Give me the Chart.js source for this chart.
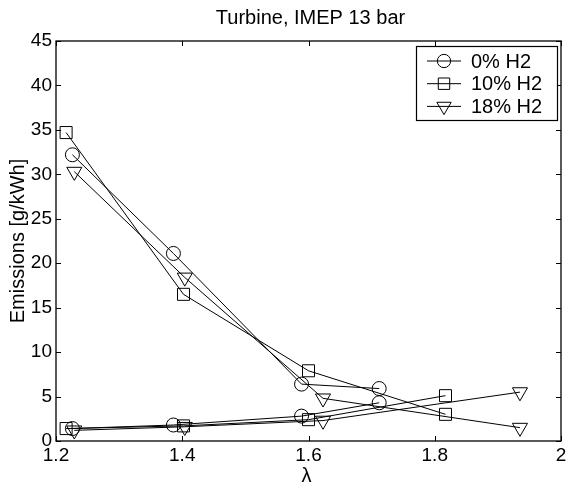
<!DOCTYPE html>
<html>
<head>
<meta charset="utf-8">
<script src="https://cdn.jsdelivr.net/npm/chart.js@4/dist/chart.umd.min.js"></script>
<style>
  html, body { margin: 0; padding: 0; background: #fff; }
  #wrap { width: 573px; height: 493px; }
</style>
</head>
<body>
<div id="wrap"><canvas id="grafico" width="573" height="493"></canvas></div>
<script>
// lambda values and emissions [g/kWh], two curves per H2 blend
const lambda0 = [1.226, 1.386, 1.589, 1.712];
const emAlta0 = [32.2, 21.1, 6.4, 5.9];
const emBaja0 = [1.4, 1.8, 2.8, 4.3];

const lambda10 = [1.216, 1.402, 1.600, 1.817];
const emAlta10 = [34.7, 16.5, 7.9, 3.0];
const emBaja10 = [1.4, 1.7, 2.4, 5.1];

const lambda18 = [1.229, 1.404, 1.623, 1.935];
const emAlta18 = [30.3, 18.4, 4.8, 1.5];
const emBaja18 = [1.2, 1.6, 2.3, 5.5];

const series = ['0% H2', '10% H2', '18% H2'];
const xTicks = [1.2, 1.4, 1.6, 1.8, 2];
const yTicks = [0, 5, 10, 15, 20, 25, 30, 35, 40, 45];

const FUENTE = '"Liberation Sans", Arial, Helvetica, sans-serif';

const marcadores = [
  { pointStyle: 'circle', radius: 7, rotation: 0 },
  { pointStyle: 'rect', radius: 8.5, rotation: 0 },
  { pointStyle: 'triangle', radius: 8.7, rotation: 180 }
];

const puntos = (xs, ys) => xs.map((x, i) => ({ x, y: ys[i] }));

function serie(nombre, data, m) {
  return {
    label: nombre,
    data,
    showLine: true,
    borderColor: '#000',
    borderWidth: 1,
    backgroundColor: 'rgba(0,0,0,0)',
    pointStyle: m.pointStyle,
    pointRadius: m.radius,
    pointRotation: m.rotation,
    pointBorderColor: '#000',
    pointBorderWidth: 1,
    pointBackgroundColor: 'rgba(0,0,0,0)',
    tension: 0
  };
}

const datasets = [
  serie(series[0], puntos(lambda0, emAlta0), marcadores[0]),
  serie(series[0], puntos(lambda0, emBaja0), marcadores[0]),
  serie(series[1], puntos(lambda10, emAlta10), marcadores[1]),
  serie(series[1], puntos(lambda10, emBaja10), marcadores[1]),
  serie(series[2], puntos(lambda18, emAlta18), marcadores[2]),
  serie(series[2], puntos(lambda18, emBaja18), marcadores[2])
];

// frame, inward ticks, title, axis labels and legend in matlab style
const estiloMatlab = {
  id: 'estiloMatlab',
  afterDraw(chart) {
    const ctx = chart.ctx;
    const a = chart.chartArea;
    const sx = chart.scales.x, sy = chart.scales.y;
    ctx.save();
    ctx.strokeStyle = '#000';
    ctx.lineWidth = 1.3;
    ctx.strokeRect(a.left, a.top, a.right - a.left, a.bottom - a.top);

    ctx.lineWidth = 1;
    ctx.beginPath();
    xTicks.forEach(v => {
      const p = Math.round(sx.getPixelForValue(v)) + 0.5;
      ctx.moveTo(p, a.bottom); ctx.lineTo(p, a.bottom - 5);
      ctx.moveTo(p, a.top); ctx.lineTo(p, a.top + 5);
    });
    yTicks.forEach(v => {
      const p = Math.round(sy.getPixelForValue(v)) + 0.5;
      ctx.moveTo(a.left, p); ctx.lineTo(a.left + 5, p);
      ctx.moveTo(a.right, p); ctx.lineTo(a.right - 5, p);
    });
    ctx.stroke();

    const cx = (a.left + a.right) / 2;
    ctx.fillStyle = '#000';
    ctx.textAlign = 'center';
    ctx.textBaseline = 'middle';
    ctx.font = '20px ' + FUENTE;
    ctx.fillText('Turbine, IMEP 13 bar', cx + 2, 18);

    ctx.font = '20px ' + FUENTE;
    ctx.fillText('λ', cx - 2, 476);

    ctx.save();
    ctx.translate(18, (a.top + a.bottom) / 2);
    ctx.rotate(-Math.PI / 2);
    ctx.font = '20px ' + FUENTE;
    ctx.fillText('Emissions [g/kWh]', 0, 0);
    ctx.restore();

    // legend
    const lx = 416, ly = 46, lw = 141, lh = 74;
    ctx.fillStyle = '#fff';
    ctx.fillRect(lx, ly, lw, lh);
    ctx.lineWidth = 1.2;
    ctx.strokeRect(lx + 0.5, ly + 0.5, lw, lh);
    ctx.font = '20px ' + FUENTE;
    ctx.textAlign = 'left';
    series.forEach((nombre, i) => {
      const y = 61 + i * 22.7;
      ctx.strokeStyle = '#000';
      ctx.lineWidth = 1;
      ctx.beginPath();
      ctx.moveTo(427, y); ctx.lineTo(461, y);
      ctx.stroke();
      const m = marcadores[i];
      ctx.fillStyle = 'rgba(0,0,0,0)';
      Chart.helpers.drawPoint(ctx, {
        pointStyle: m.pointStyle,
        radius: m.radius * 0.95,
        rotation: m.rotation,
        borderWidth: 1
      }, 444, y);
      ctx.fillStyle = '#000';
      ctx.fillText(nombre, 471, y + 1);
    });
    ctx.restore();
  }
};

const ctx = document.getElementById('grafico').getContext('2d');
new Chart(ctx, {
  type: 'scatter',
  data: { datasets },
  plugins: [estiloMatlab],
  options: {
    responsive: false,
    animation: false,
    layout: { padding: { top: 41, right: 12, left: 0, bottom: 0 } },
    plugins: {
      legend: { display: false },
      title: { display: false },
      tooltip: { enabled: false }
    },
    elements: { point: { hoverRadius: 7 } },
    scales: {
      x: {
        type: 'linear',
        min: 1.2,
        max: 2,
        afterFit: s => { s.height = 52; },
        afterBuildTicks: s => { s.ticks = xTicks.map(v => ({ value: v })); },
        grid: { display: false, drawTicks: false },
        border: { display: false },
        ticks: {
          color: '#000',
          padding: 3,
          font: { family: FUENTE, size: 19 },
          callback: v => String(v)
        }
      },
      y: {
        type: 'linear',
        min: 0,
        max: 45,
        afterFit: s => { s.width = 56; },
        afterBuildTicks: s => { s.ticks = yTicks.map(v => ({ value: v })); },
        grid: { display: false, drawTicks: false },
        border: { display: false },
        ticks: {
          color: '#000',
          padding: 4,
          font: { family: FUENTE, size: 19 },
          callback: v => String(v)
        }
      }
    }
  }
});
</script>
</body>
</html>
